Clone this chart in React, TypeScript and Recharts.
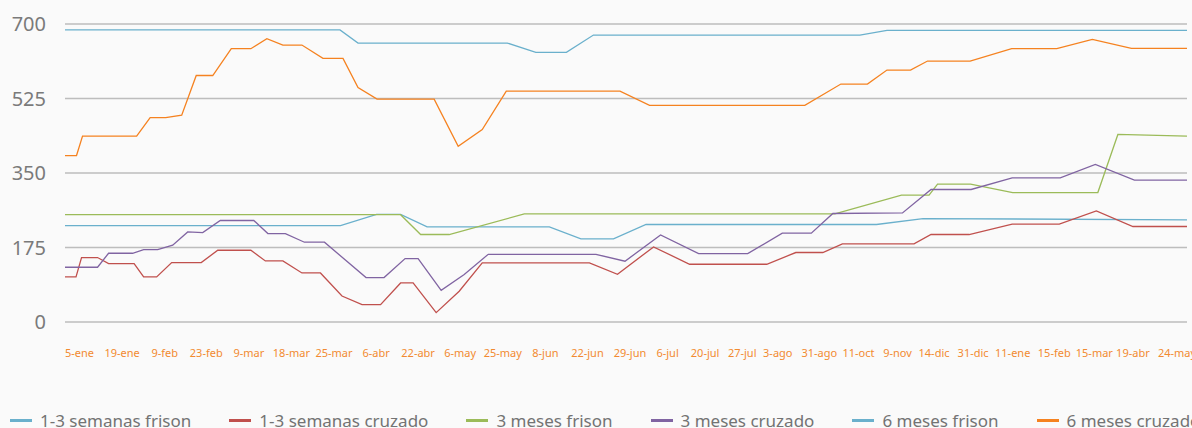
import React from 'react';
import { LineChart, Line, XAxis, YAxis, CartesianGrid, Legend } from 'recharts';

if (typeof document !== 'undefined') {
  document.body.style.margin = '0';
  document.body.style.background = '#FAFAFA';
}

// Posiciones (índice sobre el eje temporal) y etiquetas del eje X
const tickPositions = [2.9, 11.4, 19.9, 28.2, 36.7, 45.2, 53.7, 62.1, 70.5, 78.9, 87.4, 95.9, 104.3, 112.8, 120.3, 127.8, 135.2, 142.3, 150.6, 158.4, 166.2, 173.5, 181.3, 189.2, 197.5, 205.5, 213.2, 222];
const tickLabels = ['5-ene', '19-ene', '9-feb', '23-feb', '9-mar', '18-mar', '25-mar', '6-abr', '22-abr', '6-may', '25-may', '8-jun', '22-jun', '29-jun', '6-jul', '20-jul', '27-jul', '3-ago', '31-ago', '11-oct', '9-nov', '14-dic', '31-dic', '11-ene', '15-feb', '15-mar', '19-abr', '24-may'];
const yTicks = [0, 175, 350, 525, 700];

// Series: [índice, valor]
const semanasFrison: [number, number][] = [
  [0, 226.6], [55, 226.6], [62.2, 253], [67, 253], [72.3, 223.4], [96.7, 223.4], [103, 195.2], [109.5, 195.2], [116, 229], [162, 229], [171.3, 243], [224, 240],
];
const semanasCruzado: [number, number][] = [
  [0, 105.8], [2.2, 105.8], [3.3, 151.4], [6.5, 151.4], [8.7, 137.3], [13.8, 137.3], [15.7, 105.8], [18.3, 105.8], [21.3, 139.7], [27.2, 139.7], [30.5, 168.6], [37.1, 168.6], [40, 143.4], [43.5, 143.4], [47.3, 115.2], [51, 115.2], [55.3, 61.1], [59.3, 40.9], [63, 40.9], [67, 91.7], [69.5, 91.7], [74.1, 22], [78.7, 72.2], [83.3, 138.7], [104.7, 138.7], [110.3, 112.2], [117.5, 176.4], [124.7, 135.7], [140.1, 135.7], [145.9, 163.2], [151.3, 163.2], [155.2, 183.4], [169.5, 183.4], [172.9, 205.5], [180.5, 205.5], [189.1, 229.7], [198.5, 229.7], [205.9, 261], [213.2, 224.3], [224, 224.3],
];
const mesesFrison3: [number, number][] = [
  [0, 252], [67, 252], [71, 205.5], [76.7, 205.5], [91.7, 254], [153.7, 254], [167, 298], [172.5, 298], [174.2, 323.8], [180.8, 323.8], [189.2, 304], [206.2, 304], [210.2, 440.6], [224, 436.6],
];
const mesesCruzado3: [number, number][] = [
  [0, 128.6], [6.5, 128.6], [8.7, 161.5], [13.5, 161.5], [15.7, 170.2], [18.5, 170.2], [21.5, 180.3], [24.5, 211.6], [27.5, 210], [31, 238.4], [37.7, 238.4], [40.5, 207.8], [44, 207.8], [47.8, 187.4], [51.8, 187.4], [60.1, 104.4], [63.7, 104.4], [67.9, 149], [70.5, 149], [75.1, 74.5], [79.7, 111.4], [84.5, 159], [106, 159], [111.8, 142.7], [118.9, 204.6], [126.5, 160.8], [136.3, 160.8], [143.2, 208.6], [149, 208.6], [153.3, 254.9], [167.2, 256.3], [172.9, 311.3], [180.9, 311.3], [189.1, 338.6], [198.7, 338.6], [205.7, 370], [213.5, 333.2], [224, 333.2],
];
const mesesFrison6: [number, number][] = [
  [0, 686], [54.9, 686], [58.5, 655.3], [88.3, 655.3], [94, 633.4], [100.1, 633.4], [105.5, 674], [158.7, 674], [164.1, 685], [224, 685],
];
const mesesCruzado6: [number, number][] = [
  [0, 391], [2.3, 391], [3.5, 436.6], [14.3, 436.6], [17, 480], [20.1, 480], [23.3, 486], [26.2, 579], [29.5, 579], [33.2, 642], [37.1, 642], [40.3, 665.5], [43.5, 650.6], [47.3, 650.6], [51.5, 619.3], [55.5, 619.3], [58.5, 551], [62.3, 523.6], [73.7, 523.6], [78.5, 413], [83.3, 452], [88.1, 542.5], [110.8, 542.5], [116.7, 508.8], [147.7, 508.8], [154.9, 559], [160.2, 559], [164.1, 591.8], [168.8, 591.8], [172.2, 613], [180.7, 613], [189, 642], [198, 642], [205.1, 664], [212.9, 642.8], [224, 642.8],
];

const toPoints = (arr: [number, number][]) => arr.map(([x, v]) => ({ x, v }));

const series = [
  { name: '1-3 semanas frison', color: '#6AB0CC', data: semanasFrison },
  { name: '1-3 semanas cruzado', color: '#C0504D', data: semanasCruzado },
  { name: '3 meses frison', color: '#9BBB59', data: mesesFrison3 },
  { name: '3 meses cruzado', color: '#8064A2', data: mesesCruzado3 },
  { name: '6 meses frison', color: '#6AB0CC', data: mesesFrison6 },
  { name: '6 meses cruzado', color: '#F58220', data: mesesCruzado6 },
];

const FONT = '"Noto Sans", sans-serif';

const renderLegend = () => (
  <div style={{ display: 'flex', alignItems: 'center', height: 18, lineHeight: '17px', fontFamily: FONT, fontSize: 17, color: '#737373', whiteSpace: 'nowrap' }}>
    {series.map((s, i) => (
      <div key={s.name} style={{ display: 'flex', alignItems: 'center', marginLeft: i === 0 ? 10 : 38, flexShrink: 0 }}>
        <span style={{ display: 'inline-block', width: 22, height: 3, background: s.color, marginRight: 8 }} />
        <span>{s.name}</span>
      </div>
    ))}
  </div>
);

export default function App() {
  return (
    <div style={{ width: 1192, height: 428, overflow: 'hidden', background: '#FAFAFA', position: 'relative' }}>
      <LineChart width={1192} height={428} margin={{ top: 24, right: 5, bottom: 76, left: 8 }}>
        <CartesianGrid horizontal vertical={false} stroke="#BDBDBD" strokeWidth={1.3} />
        <XAxis
          type="number"
          dataKey="x"
          domain={[0, 224]}
          ticks={tickPositions}
          interval={0}
          tickFormatter={(v: number) => tickLabels[tickPositions.indexOf(v)] ?? ''}
          axisLine={false}
          tickLine={false}
          tickSize={0}
          tickMargin={27}
          height={30}
          tick={{ fill: '#F28A30', fontSize: 11, fontFamily: FONT }}
          allowDataOverflow
        />
        <YAxis
          domain={[0, 700]}
          ticks={yTicks}
          interval={0}
          axisLine={false}
          tickLine={false}
          tickSize={0}
          tickMargin={19}
          width={57}
          tick={{ fill: '#7A7A7A', fontSize: 20, fontFamily: FONT }}
        />
        <Legend
          layout="horizontal"
          verticalAlign="middle"
          align="center"
          content={renderLegend}
          wrapperStyle={{ left: 0, top: 411, width: 1192, height: 18 }}
        />
        {series.map((s) => (
          <Line
            key={s.name}
            data={toPoints(s.data)}
            dataKey="v"
            name={s.name}
            type="linear"
            stroke={s.color}
            strokeWidth={1.3}
            dot={false}
            activeDot={false}
            isAnimationActive={false}
          />
        ))}
      </LineChart>
    </div>
  );
}
